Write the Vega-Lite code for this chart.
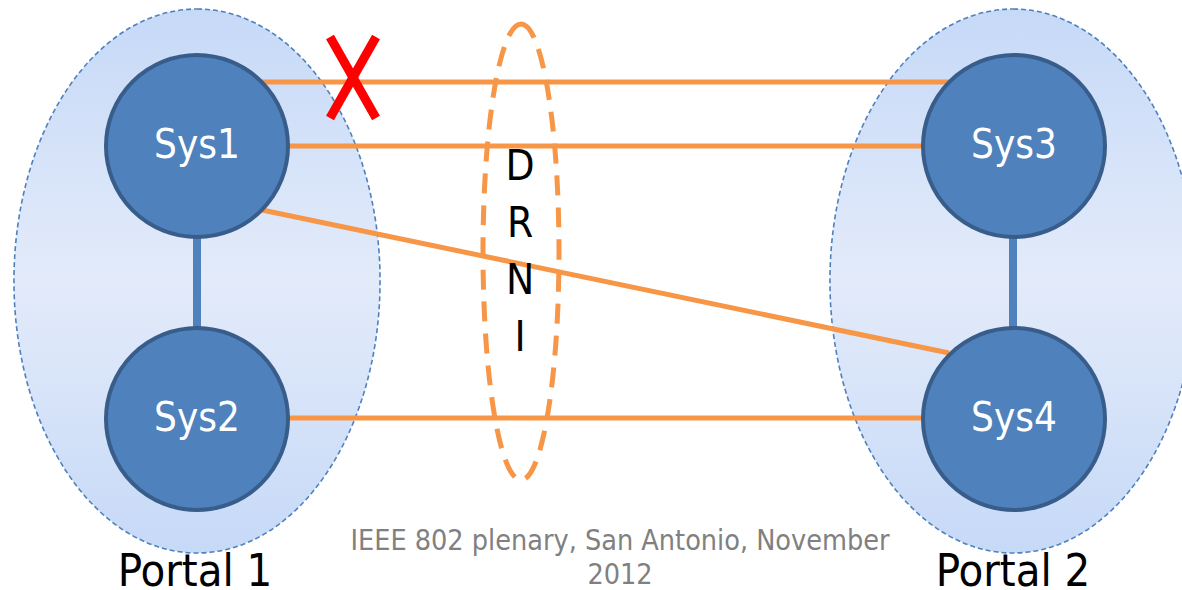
{
  "$schema": "https://vega.github.io/schema/vega-lite/v6.json",
  "autosize": "none",
  "width": 1182,
  "height": 590,
  "padding": 0,
  "background": "white",
  "config": {"view": {"stroke": null}},
  "datasets": {
    "portals": [
      {"name": "Portal 1", "cx": 197, "cy": 281},
      {"name": "Portal 2", "cx": 1013, "cy": 281}
    ],
    "drni": [{"name": "DRNI", "cx": 521, "cy": 252}],
    "bars": [
      {"pair": "Sys1-Sys2", "x": 197, "y": 238, "x2": 197, "y2": 328},
      {"pair": "Sys3-Sys4", "x": 1013, "y": 238, "x2": 1013, "y2": 328}
    ],
    "links": [
      {"from": "Sys1", "to": "Sys3", "x": 262, "y": 82, "x2": 950, "y2": 82},
      {"from": "Sys1", "to": "Sys3", "x": 288, "y": 146, "x2": 923, "y2": 146},
      {"from": "Sys1", "to": "Sys4", "x": 262, "y": 210, "x2": 949, "y2": 353},
      {"from": "Sys2", "to": "Sys4", "x": 288, "y": 418, "x2": 923, "y2": 418}
    ],
    "systems": [
      {"name": "Sys1", "cx": 197, "cy": 146},
      {"name": "Sys2", "cx": 197, "cy": 419},
      {"name": "Sys3", "cx": 1014, "cy": 146},
      {"name": "Sys4", "cx": 1014, "cy": 419}
    ],
    "cross": [
      {"arm": 1, "x": 330, "y": 37, "x2": 376, "y2": 118},
      {"arm": 2, "x": 376, "y": 37, "x2": 330, "y2": 118}
    ],
    "letters": [
      {"t": "D", "x": 520, "y": 167},
      {"t": "R", "x": 520, "y": 224},
      {"t": "N", "x": 520, "y": 281},
      {"t": "I", "x": 520, "y": 338}
    ],
    "portalLabels": [
      {"t": "Portal 1", "x": 195, "y": 586},
      {"t": "Portal 2", "x": 1013, "y": 586}
    ],
    "footer": [
      {"t": "IEEE 802 plenary, San Antonio, November", "x": 620, "y": 550},
      {"t": "2012", "x": 620, "y": 584}
    ]
  },
  "layer": [
    {
      "data": {"name": "portals"},
      "mark": {
        "type": "point",
        "filled": true,
        "shape": "M0,-1C0.3717,-1 0.673,-0.5523 0.673,0C0.673,0.5523 0.3717,1 0,1C-0.3717,1 -0.673,0.5523 -0.673,0C-0.673,-0.5523 -0.3717,-1 0,-1Z",
        "size": 295936,
        "opacity": 1,
        "fill": {"gradient": "linear", "x1": 0, "y1": 0, "x2": 0, "y2": 1,
          "stops": [
            {"offset": 0, "color": "#c6d9f7"},
            {"offset": 0.5, "color": "#e3ebfa"},
            {"offset": 1, "color": "#c6d9f7"}
          ]},
        "stroke": "#4f81bd",
        "strokeWidth": 1.6,
        "strokeDash": [5, 3]
      },
      "encoding": {
        "x": {"field": "cx", "type": "quantitative", "scale": {"domain": [0, 1182], "nice": false, "zero": false}, "axis": null},
        "y": {"field": "cy", "type": "quantitative", "scale": {"domain": [0, 590], "nice": false, "zero": false, "reverse": true}, "axis": null}
      }
    },
    {
      "data": {"name": "bars"},
      "mark": {"type": "rule", "color": "#4f81bd", "strokeWidth": 8},
      "encoding": {
        "x": {"field": "x", "type": "quantitative"},
        "y": {"field": "y", "type": "quantitative"},
        "x2": {"field": "x2"},
        "y2": {"field": "y2"}
      }
    },
    {
      "data": {"name": "links"},
      "mark": {"type": "rule", "color": "#f79646", "strokeWidth": 5},
      "encoding": {
        "x": {"field": "x", "type": "quantitative"},
        "y": {"field": "y", "type": "quantitative"},
        "x2": {"field": "x2"},
        "y2": {"field": "y2"}
      }
    },
    {
      "data": {"name": "systems"},
      "mark": {"type": "point", "shape": "circle", "filled": true, "size": 33124, "opacity": 1, "fill": "#4f81bd", "stroke": "#385d8a", "strokeWidth": 4},
      "encoding": {
        "x": {"field": "cx", "type": "quantitative"},
        "y": {"field": "cy", "type": "quantitative"}
      }
    },
    {
      "data": {"name": "drni"},
      "mark": {
        "type": "point",
        "filled": false,
        "shape": "M0,-1C0.0921,-1 0.1667,-0.5523 0.1667,0C0.1667,0.5523 0.0921,1 0,1C-0.0921,1 -0.1667,0.5523 -0.1667,0C-0.1667,-0.5523 -0.0921,-1 0,-1Z",
        "size": 207936,
        "opacity": 1,
        "stroke": "#f79646",
        "strokeWidth": 5,
        "strokeDash": [20, 12]
      },
      "encoding": {
        "x": {"field": "cx", "type": "quantitative"},
        "y": {"field": "cy", "type": "quantitative"}
      }
    },
    {
      "data": {"name": "systems"},
      "mark": {"type": "text", "color": "white", "font": "DejaVu Sans Condensed, sans-serif", "fontSize": 40, "align": "center", "baseline": "middle"},
      "encoding": {
        "x": {"field": "cx", "type": "quantitative"},
        "y": {"field": "cy", "type": "quantitative"},
        "text": {"field": "name"}
      }
    },
    {
      "data": {"name": "letters"},
      "mark": {"type": "text", "color": "black", "font": "DejaVu Sans Condensed, sans-serif", "fontSize": 42, "align": "center", "baseline": "middle"},
      "encoding": {
        "x": {"field": "x", "type": "quantitative"},
        "y": {"field": "y", "type": "quantitative"},
        "text": {"field": "t"}
      }
    },
    {
      "data": {"name": "portalLabels"},
      "mark": {"type": "text", "color": "black", "font": "DejaVu Sans Condensed, sans-serif", "fontSize": 45, "align": "center", "baseline": "alphabetic"},
      "encoding": {
        "x": {"field": "x", "type": "quantitative"},
        "y": {"field": "y", "type": "quantitative"},
        "text": {"field": "t"}
      }
    },
    {
      "data": {"name": "footer"},
      "mark": {"type": "text", "color": "#808080", "font": "DejaVu Sans Condensed, sans-serif", "fontSize": 28.5, "align": "center", "baseline": "alphabetic"},
      "encoding": {
        "x": {"field": "x", "type": "quantitative"},
        "y": {"field": "y", "type": "quantitative"},
        "text": {"field": "t"}
      }
    },
    {
      "data": {"name": "cross"},
      "mark": {"type": "rule", "color": "#ff0000", "strokeWidth": 9},
      "encoding": {
        "x": {"field": "x", "type": "quantitative"},
        "y": {"field": "y", "type": "quantitative"},
        "x2": {"field": "x2"},
        "y2": {"field": "y2"}
      }
    }
  ]
}
